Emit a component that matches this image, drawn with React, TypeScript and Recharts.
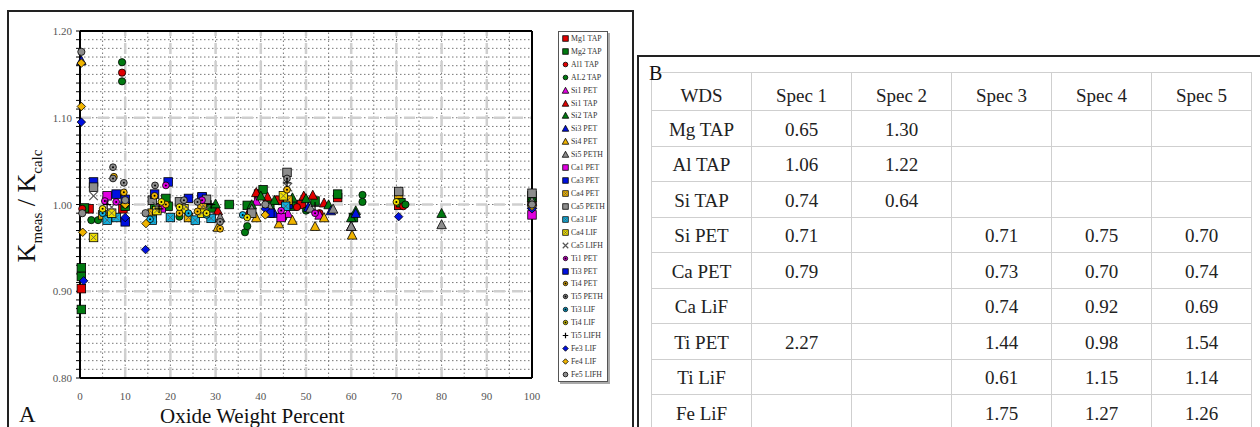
import React from 'react'
import { ScatterChart, Scatter, XAxis, YAxis, ReferenceLine } from 'recharts'

const xTicks = [0, 10, 20, 30, 40, 50, 60, 70, 80, 90, 100]

// [oxide weight percent, Kmeas / Kcalc]
const mg1Tap = [[0.3, 0.903], [2, 0.995], [9.5, 0.995], [39.5, 1.012], [44, 1.005], [49, 1.0], [57, 1.008], [70.5, 0.999], [100, 1.003]]
const mg2Tap = [[0.3, 0.927], [0.3, 0.917], [0.3, 0.879], [1, 0.996], [10, 0.998], [16.5, 0.996], [19, 1.007], [19.5, 0.998], [29, 0.996], [33, 1.0], [37, 0.999], [40.5, 1.017], [42, 1.0], [47, 0.998], [52, 1.004], [57, 1.012], [60.5, 0.985], [71, 1.002], [100, 1.01]]
const al1Tap = [[9.3, 1.152], [0.5, 0.995], [37.5, 0.99], [48, 0.997], [53, 0.99], [71.5, 0.998]]
const al2Tap = [[9.3, 1.164], [9.3, 1.142], [2.5, 0.982], [4, 0.982], [10, 1.0], [22, 0.986], [36.5, 0.968], [37, 0.975], [45, 0.985], [50, 0.993], [62.5, 1.011], [62.5, 1.003], [72, 1.0]]
const si1Pet = [[39, 1.004], [46, 0.99], [53, 0.988], [60, 0.975]]
const si1Tap = [[30.5, 0.993], [39, 1.014], [41.5, 1.009], [49.5, 1.01], [51.5, 1.011], [54, 1.002]]
const si2Tap = [[30, 1.001], [38, 1.0], [40, 1.01], [43, 1.005], [47, 1.008], [50, 1.007], [55, 1.0], [60, 0.985], [61, 0.993], [80, 0.99], [100, 1.008]]
const si3Pet = [[0.3, 1.166], [43, 0.99], [50.5, 0.997], [55.5, 0.993], [61, 0.99], [100, 1.0]]
const si4Pet = [[30.5, 0.974], [39, 0.985], [44, 0.978], [47, 0.982], [52, 0.975], [54, 0.985], [60.2, 0.965]]
const si5Peth = [[31, 0.985], [38, 0.995], [42, 0.997], [46, 1.003], [51, 0.996], [56, 0.995], [60, 0.975], [80, 0.977], [100, 1.004]]
const ca1Pet = [[6, 1.01], [18, 0.996], [27, 1.008], [44.5, 0.985], [100, 0.988]]
const ca3Pet = [[3, 1.026], [10, 1.006], [19.5, 1.026], [27, 1.009], [46, 1.0]]
const ca4Pet = [[5, 0.988], [16, 0.99], [24, 0.985], [27, 0.997], [46, 1.005], [70.5, 1.012]]
const ca5Peth = [[3, 1.02], [16, 1.005], [22, 1.003], [28, 1.006], [38, 0.99], [45.8, 1.037], [70.5, 1.015], [100, 1.013]]
const ca3Lif = [[6, 0.982], [8, 0.985], [16, 0.982], [20, 0.985], [25.5, 0.982], [29, 0.984], [45.5, 0.998]]
const ca4Lif = [[3, 0.962], [7, 0.99], [17, 0.993], [23, 0.995], [27, 0.99], [45, 1.01]]
const ca5Lifh = [[3, 1.01], [7, 0.997], [17, 0.998], [23, 1.0], [28, 0.995], [46, 1.02]]
const ti1Pet = [[5.5, 1.004], [8, 1.003], [19, 1.022], [27, 1.005], [44.5, 0.993], [52, 0.99]]
const ti3Pet = [[8, 1.012], [10, 0.98], [16.5, 1.012], [24, 1.007], [42, 0.99]]
const ti4Pet = [[7.5, 1.032], [9.7, 1.014], [16.5, 1.01], [19, 1.0], [22, 0.99], [26, 0.992], [31, 0.972], [45.8, 1.017]]
const ti5Peth = [[7.3, 1.043], [7.3, 1.03], [9.7, 1.025], [16.6, 1.022], [23, 1.005], [26, 1.003], [31, 0.98], [45.8, 1.03]]
const ti3Lif = [[5, 0.99], [15.5, 0.983], [24, 0.99], [28, 0.988], [36, 0.988]]
const ti4Lif = [[5, 0.995], [18, 1.003], [22, 0.997], [28, 0.99], [37, 0.985], [70, 1.003]]
const ti5Lifh = [[6, 1.0], [17.5, 0.995], [29, 1.0], [45.8, 1.025], [52, 0.998]]
const fe3Lif = [[0.3, 1.095], [0.8, 0.912], [10, 0.985], [14.5, 0.948], [41, 0.995], [70.5, 0.986], [100, 0.995]]
const fe4Lif = [[0.3, 1.163], [0.3, 1.113], [0.6, 0.968], [10, 1.0], [14.6, 0.978], [41, 0.988], [100, 0.998]]
const fe5Lifh = [[0.3, 1.176], [0.5, 0.99], [10, 1.005], [14.5, 0.99], [41, 1.0], [100, 1.0]]

// table B
const tableHeader = ['WDS', 'Spec 1', 'Spec 2', 'Spec 3', 'Spec 4', 'Spec 5']
const crystals = ['Mg TAP', 'Al TAP', 'Si TAP', 'Si PET', 'Ca PET', 'Ca LiF', 'Ti PET', 'Ti LiF', 'Fe LiF']
const spec1 = ['0.65', '1.06', '0.74', '0.71', '0.79', '', '2.27', '', '']
const spec2 = ['1.30', '1.22', '0.64', '', '', '', '', '', '']
const spec3 = ['', '', '', '0.71', '0.73', '0.74', '1.44', '0.61', '1.75']
const spec4 = ['', '', '', '0.75', '0.70', '0.92', '0.98', '1.15', '1.27']
const spec5 = ['', '', '', '0.70', '0.74', '0.69', '1.54', '1.14', '1.26']

const RED = '#e00000'
const GREEN = '#007a10'
const MAGENTA = '#e000e0'
const BLUE = '#0010e0'
const GOLD = '#f0b400'
const GRAY = '#8c8c8c'
const CYAN = '#10b0e0'
const YELLOW = '#f0e000'

const series = [
  { name: 'Mg1 TAP', data: mg1Tap, color: RED, kind: 'square' },
  { name: 'Mg2 TAP', data: mg2Tap, color: GREEN, kind: 'square' },
  { name: 'Al1 TAP', data: al1Tap, color: RED, kind: 'circle' },
  { name: 'AL2 TAP', data: al2Tap, color: GREEN, kind: 'circle' },
  { name: 'Si1 PET', data: si1Pet, color: MAGENTA, kind: 'triangle' },
  { name: 'Si1 TAP', data: si1Tap, color: RED, kind: 'triangle' },
  { name: 'Si2 TAP', data: si2Tap, color: GREEN, kind: 'triangle' },
  { name: 'Si3 PET', data: si3Pet, color: BLUE, kind: 'triangle' },
  { name: 'Si4 PET', data: si4Pet, color: GOLD, kind: 'triangle' },
  { name: 'Si5 PETH', data: si5Peth, color: GRAY, kind: 'triangle' },
  { name: 'Ca1 PET', data: ca1Pet, color: MAGENTA, kind: 'square' },
  { name: 'Ca3 PET', data: ca3Pet, color: BLUE, kind: 'square' },
  { name: 'Ca4 PET', data: ca4Pet, color: GOLD, kind: 'xsquare' },
  { name: 'Ca5 PETH', data: ca5Peth, color: GRAY, kind: 'square' },
  { name: 'Ca3 LIF', data: ca3Lif, color: CYAN, kind: 'xsquare' },
  { name: 'Ca4 LIF', data: ca4Lif, color: YELLOW, kind: 'xsquare' },
  { name: 'Ca5 LIFH', data: ca5Lifh, color: GRAY, kind: 'x' },
  { name: 'Ti1 PET', data: ti1Pet, color: MAGENTA, kind: 'star' },
  { name: 'Ti3 PET', data: ti3Pet, color: BLUE, kind: 'square' },
  { name: 'Ti4 PET', data: ti4Pet, color: GOLD, kind: 'star' },
  { name: 'Ti5 PETH', data: ti5Peth, color: GRAY, kind: 'star' },
  { name: 'Ti3 LIF', data: ti3Lif, color: CYAN, kind: 'star' },
  { name: 'Ti4 LIF', data: ti4Lif, color: YELLOW, kind: 'star' },
  { name: 'Ti5 LIFH', data: ti5Lifh, color: '#000', kind: 'plus' },
  { name: 'Fe3 LIF', data: fe3Lif, color: BLUE, kind: 'diamond' },
  { name: 'Fe4 LIF', data: fe4Lif, color: GOLD, kind: 'diamond' },
  { name: 'Fe5 LIFH', data: fe5Lifh, color: GRAY, kind: 'circle' },
]

const SERIF = '"Liberation Serif", "Times New Roman", serif'

const Marker = ({ kind, color, cx, cy, s = 8.5 }: any) => {
  const h = s / 2
  const sw = 0.8
  switch (kind) {
    case 'square':
      return <rect x={cx - h} y={cy - h} width={s} height={s} fill={color} stroke="#000" strokeWidth={sw} />
    case 'xsquare':
      return (
        <g>
          <rect x={cx - h} y={cy - h} width={s} height={s} fill={color} stroke="#000" strokeWidth={sw} />
          <path d={`M${cx - h + 1.5},${cy - h + 1.5}L${cx + h - 1.5},${cy + h - 1.5}M${cx + h - 1.5},${cy - h + 1.5}L${cx - h + 1.5},${cy + h - 1.5}`} stroke="#555" strokeWidth={0.8} />
        </g>
      )
    case 'circle':
      return <circle cx={cx} cy={cy} r={h * 0.85} fill={color} stroke="#000" strokeWidth={sw} />
    case 'star':
      return (
        <g>
          <circle cx={cx} cy={cy} r={h * 0.8} fill={color} stroke="#000" strokeWidth={sw} />
          <circle cx={cx} cy={cy} r={1} fill="#000" />
        </g>
      )
    case 'triangle':
      return <polygon points={`${cx},${cy - h - 0.5} ${cx + h + 0.5},${cy + h} ${cx - h - 0.5},${cy + h}`} fill={color} stroke="#000" strokeWidth={sw} />
    case 'diamond':
      return <polygon points={`${cx},${cy - h} ${cx + h},${cy} ${cx},${cy + h} ${cx - h},${cy}`} fill={color} stroke="#000" strokeWidth={sw} />
    case 'x':
      return <path d={`M${cx - h},${cy - h}L${cx + h},${cy + h}M${cx + h},${cy - h}L${cx - h},${cy + h}`} stroke="#555" strokeWidth={1.2} />
    case 'plus':
      return <path d={`M${cx - h},${cy}L${cx + h},${cy}M${cx},${cy - h}L${cx},${cy + h}`} stroke="#000" strokeWidth={1.2} />
    default:
      return null
  }
}

const yAllTicks = Array.from({ length: 41 }, (_, i) => Math.round((0.8 + i * 0.01) * 100) / 100)
const hDotted = yAllTicks.filter(v => v > 0.8 && v < 1.2)
const vDotted = [5, 10, 15, 20, 25, 30, 35, 40, 45, 50, 55, 60, 65, 70, 75, 80, 85, 90, 95]
const vDashed = [10, 20, 30, 40, 50, 60, 70, 80, 90]
const hDashed = [0.9, 1.0, 1.1]

const YTick = (props: any) => {
  const { x, y, payload } = props
  const v = Math.round(payload.value * 100)
  if (v % 10 !== 0) return <g />
  return (
    <text x={x} y={y} dy={4} textAnchor="end" fontSize={11} fill="#555" fontFamily={SERIF}>
      {(v / 100).toFixed(2)}
    </text>
  )
}

const Legend = () => (
  <div
    style={{
      position: 'absolute', left: 558, top: 31, width: 48, height: 349,
      border: '1px solid #555', boxShadow: '2px 2px 0 #aaa', background: '#fff',
      fontFamily: SERIF, fontSize: 7.8, color: '#333',
    }}
  >
    {series.map(s => (
      <div key={s.name} style={{ height: 12.93, display: 'flex', alignItems: 'center', whiteSpace: 'nowrap' }}>
        <svg width={9} height={9} style={{ marginLeft: 2, marginRight: 1 }}>
          <Marker kind={s.kind} color={s.color} cx={4.5} cy={4.5} s={5.5} />
        </svg>
        <span>{s.name}</span>
      </div>
    ))}
  </div>
)

const specCols = [spec1, spec2, spec3, spec4, spec5]

const cellStyle: React.CSSProperties = {
  border: '1px solid #cfcfcf', textAlign: 'center', padding: '3px 0 0 0',
  width: 99, fontFamily: SERIF, fontSize: 19, color: '#222', lineHeight: '20px',
}

export default function App() {
  return (
    <div style={{ position: 'absolute', left: 0, top: 0, width: 1260, height: 427, overflow: 'hidden', background: '#fff', fontFamily: SERIF }}>
      {/* panel A frame */}
      <div style={{ position: 'absolute', left: 7, top: 10, width: 623, height: 440, border: '2px solid #222' }} />
      <div style={{ position: 'absolute', left: 0, top: 0 }}>
        <ScatterChart width={640} height={427} margin={{ top: 31, right: 108, left: 50, bottom: 24 }}>
          {hDotted.map(v => (
            <ReferenceLine key={'hd' + v} y={v} stroke="#777" strokeWidth={1} strokeDasharray="1.5 2.5" />
          ))}
          {vDotted.map(v => (
            <ReferenceLine key={'vd' + v} x={v} stroke="#777" strokeWidth={1} strokeDasharray="1.5 2.5" />
          ))}
          {hDashed.map(v => (
            <ReferenceLine key={'hD' + v} y={v} stroke="#cfcfcf" strokeWidth={2.5} strokeDasharray="11 7" />
          ))}
          {vDashed.map(v => (
            <ReferenceLine key={'vD' + v} x={v} stroke="#cfcfcf" strokeWidth={2.5} strokeDasharray="11 7" />
          ))}
          <ReferenceLine y={1.2} stroke="#000" strokeWidth={2} />
          <ReferenceLine x={100} stroke="#000" strokeWidth={2} />
          <XAxis
            type="number" dataKey="x" domain={[0, 100]} ticks={xTicks} interval={0}
            height={25} axisLine={{ stroke: '#000', strokeWidth: 2 }} tickLine={false}
            tickSize={6} tickMargin={8}
            tick={{ fontSize: 11, fill: '#555', fontFamily: SERIF }}
          />
          <YAxis
            type="number" dataKey="y" domain={[0.8, 1.2]} ticks={yAllTicks} interval={0}
            width={30} axisLine={{ stroke: '#000', strokeWidth: 2 }}
            tickLine={{ stroke: '#000' }} tickSize={4} tickMargin={4}
            tick={<YTick />}
          />
          {series.map(s => (
            <Scatter
              key={s.name}
              name={s.name}
              data={s.data.map(([x, y]) => ({ x, y }))}
              isAnimationActive={false}
              shape={(p: any) => <Marker kind={s.kind} color={s.color} cx={p.cx} cy={p.cy} />}
            />
          ))}
        </ScatterChart>
      </div>
      <Legend />
      <div
        style={{
          position: 'absolute', left: 32, top: 206, transform: 'translate(-50%, -50%) rotate(-90deg)',
          whiteSpace: 'nowrap', fontSize: 26, color: '#111', lineHeight: '30px',
        }}
      >
        K<sub style={{ fontSize: 15 }}>meas</sub> / K<sub style={{ fontSize: 15 }}>calc</sub>
      </div>
      <div style={{ position: 'absolute', left: 160, top: 404, fontSize: 21, color: '#111' }}>Oxide Weight Percent</div>
      <div style={{ position: 'absolute', left: 19, top: 402, fontSize: 23, color: '#111' }}>A</div>

      {/* panel B */}
      <div style={{ position: 'absolute', left: 637, top: 55, width: 700, height: 440, borderLeft: '2px solid #222', borderTop: '2px solid #222' }} />
      <table style={{ position: 'absolute', left: 651, top: 72, borderCollapse: 'collapse', tableLayout: 'fixed' }}>
        <thead>
          <tr style={{ height: 38 }}>
            {tableHeader.map(h => (
              <td key={h} style={{ ...cellStyle, paddingTop: 8 }}>{h}</td>
            ))}
          </tr>
        </thead>
        <tbody>
          {crystals.map((c, i) => (
            <tr key={c} style={{ height: 35.5 }}>
              <td style={cellStyle}>{c}</td>
              {specCols.map((col, j) => (
                <td key={j} style={cellStyle}>{col[i]}</td>
              ))}
            </tr>
          ))}
        </tbody>
      </table>
      <div style={{ position: 'absolute', left: 649, top: 62, fontSize: 20, color: '#111' }}>B</div>
    </div>
  )
}
